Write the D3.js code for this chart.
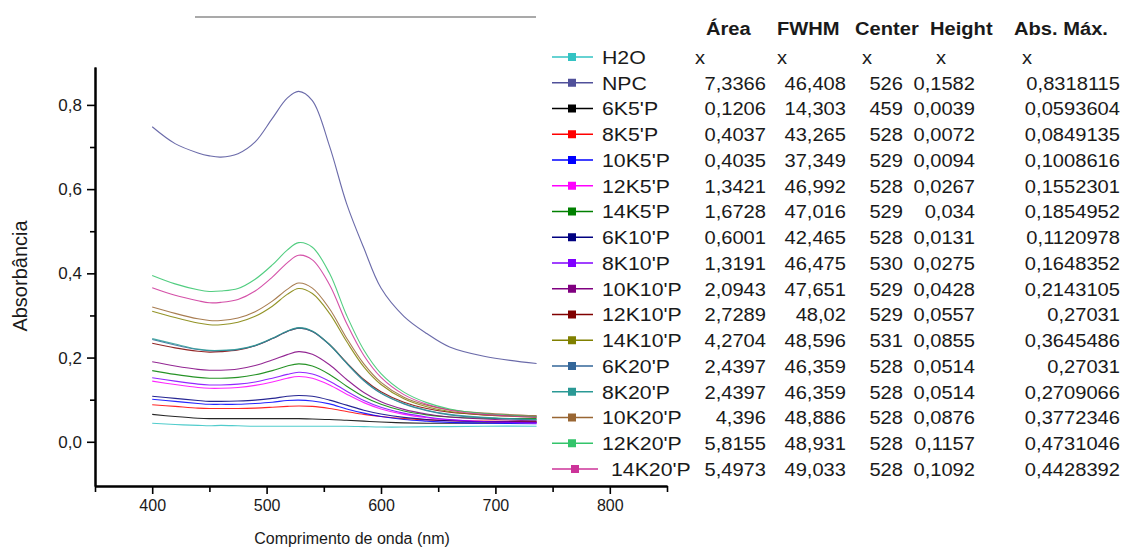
<!DOCTYPE html>
<html>
<head>
<meta charset="utf-8">
<script src="https://cdn.jsdelivr.net/npm/d3@7"></script>
<style>
  body { margin: 0; background: #fff; }
  text { font-family: "Liberation Sans", Arial, sans-serif; fill: #1a1a1a; }
</style>
</head>
<body>
<div id="chart"></div>
<script>
var wavelengths = [400, 420, 440, 450, 460, 475, 490, 505, 518, 528, 540, 555, 570, 585, 600, 620, 640, 660, 690, 736];

var seriesNames = ["H2O", "NPC", "6K5'P", "8K5'P", "10K5'P", "12K5'P", "14K5'P", "6K10'P", "8K10'P",
                   "10K10'P", "12K10'P", "14K10'P", "6K20'P", "8K20'P", "10K20'P", "12K20'P", "14K20'P"];

var seriesColors = ["#33c3c3", "#50509a", "#000000", "#ff0000", "#0000ff", "#ff00ff", "#008000", "#000080", "#8000ff",
                    "#800080", "#800000", "#808000", "#336699", "#2a9995", "#996633", "#33c46a", "#cc3399"];

// absorbance values, one array per sample
var h2o     = [0.044, 0.041, 0.039, 0.038, 0.039, 0.038, 0.037, 0.037, 0.037, 0.037, 0.037, 0.037, 0.037, 0.036, 0.035, 0.035, 0.036, 0.036, 0.037, 0.037];
var npc     = [0.748, 0.708, 0.686, 0.679, 0.676, 0.684, 0.712, 0.768, 0.816, 0.832, 0.810, 0.702, 0.565, 0.460, 0.365, 0.298, 0.257, 0.225, 0.203, 0.186];
var k6p5    = [0.065, 0.060, 0.056, 0.055, 0.055, 0.055, 0.055, 0.055, 0.055, 0.055, 0.054, 0.053, 0.051, 0.049, 0.047, 0.045, 0.044, 0.044, 0.045, 0.046];
var k8p5    = [0.088, 0.084, 0.080, 0.079, 0.079, 0.079, 0.080, 0.082, 0.084, 0.085, 0.084, 0.079, 0.072, 0.065, 0.060, 0.055, 0.052, 0.050, 0.049, 0.048];
var k10p5   = [0.101, 0.096, 0.091, 0.089, 0.089, 0.089, 0.091, 0.094, 0.098, 0.099, 0.097, 0.090, 0.078, 0.068, 0.060, 0.053, 0.049, 0.046, 0.044, 0.043];
var k12p5   = [0.144, 0.136, 0.129, 0.127, 0.127, 0.129, 0.134, 0.142, 0.151, 0.155, 0.151, 0.135, 0.113, 0.093, 0.078, 0.065, 0.057, 0.052, 0.048, 0.045];
var k14p5   = [0.169, 0.160, 0.153, 0.151, 0.151, 0.153, 0.159, 0.169, 0.180, 0.185, 0.180, 0.160, 0.132, 0.107, 0.089, 0.073, 0.064, 0.059, 0.056, 0.055];
var k6p10   = [0.108, 0.103, 0.098, 0.096, 0.096, 0.097, 0.099, 0.103, 0.108, 0.110, 0.108, 0.099, 0.087, 0.075, 0.066, 0.058, 0.053, 0.050, 0.048, 0.047];
var k8p10   = [0.152, 0.144, 0.137, 0.135, 0.135, 0.137, 0.142, 0.151, 0.160, 0.165, 0.161, 0.144, 0.120, 0.098, 0.082, 0.068, 0.059, 0.053, 0.048, 0.045];
var k10p10  = [0.190, 0.180, 0.172, 0.170, 0.170, 0.173, 0.181, 0.194, 0.207, 0.214, 0.208, 0.183, 0.148, 0.117, 0.095, 0.077, 0.066, 0.059, 0.054, 0.050];
var k12p10  = [0.234, 0.223, 0.215, 0.213, 0.214, 0.218, 0.228, 0.245, 0.262, 0.270, 0.262, 0.231, 0.188, 0.148, 0.119, 0.094, 0.079, 0.070, 0.064, 0.061];
var k14p10  = [0.310, 0.295, 0.282, 0.278, 0.278, 0.284, 0.298, 0.322, 0.350, 0.364, 0.352, 0.305, 0.238, 0.178, 0.136, 0.102, 0.083, 0.072, 0.064, 0.058];
var k6p20   = [0.243, 0.230, 0.219, 0.216, 0.216, 0.219, 0.228, 0.245, 0.262, 0.270, 0.262, 0.230, 0.186, 0.145, 0.115, 0.090, 0.074, 0.064, 0.057, 0.052];
var k8p20   = [0.245, 0.232, 0.220, 0.217, 0.217, 0.220, 0.229, 0.246, 0.263, 0.271, 0.263, 0.231, 0.187, 0.146, 0.116, 0.091, 0.075, 0.065, 0.058, 0.053];
var k10p20  = [0.320, 0.305, 0.292, 0.288, 0.288, 0.294, 0.309, 0.334, 0.362, 0.377, 0.365, 0.316, 0.246, 0.185, 0.141, 0.106, 0.087, 0.076, 0.068, 0.062];
var k12p20  = [0.395, 0.375, 0.361, 0.357, 0.358, 0.364, 0.386, 0.420, 0.455, 0.473, 0.462, 0.400, 0.300, 0.218, 0.162, 0.118, 0.093, 0.078, 0.067, 0.060];
var k14p20  = [0.366, 0.348, 0.335, 0.330, 0.331, 0.338, 0.358, 0.391, 0.425, 0.443, 0.432, 0.373, 0.281, 0.205, 0.153, 0.112, 0.089, 0.075, 0.065, 0.058];

var seriesValues = [h2o, npc, k6p5, k8p5, k10p5, k12p5, k14p5, k6p10, k8p10,
                    k10p10, k12p10, k14p10, k6p20, k8p20, k10p20, k12p20, k14p20];

// fit table next to the legend
var tableHeaders = ["Área", "FWHM", "Center", "Height", "Abs. Máx."];
var areaCol   = ["x", "7,3366", "0,1206", "0,4037", "0,4035", "1,3421", "1,6728", "0,6001", "1,3191", "2,0943", "2,7289", "4,2704", "2,4397", "2,4397", "4,396", "5,8155", "5,4973"];
var fwhmCol   = ["x", "46,408", "14,303", "43,265", "37,349", "46,992", "47,016", "42,465", "46,475", "47,651", "48,02", "48,596", "46,359", "46,359", "48,886", "48,931", "49,033"];
var centerCol = ["x", "526", "459", "528", "529", "528", "529", "528", "530", "529", "529", "531", "528", "528", "528", "528", "528"];
var heightCol = ["x", "0,1582", "0,0039", "0,0072", "0,0094", "0,0267", "0,034", "0,0131", "0,0275", "0,0428", "0,0557", "0,0855", "0,0514", "0,0514", "0,0876", "0,1157", "0,1092"];
var absMaxCol = ["x", "0,8318115", "0,0593604", "0,0849135", "0,1008616", "0,1552301", "0,1854952", "0,1120978", "0,1648352", "0,2143105", "0,27031", "0,3645486", "0,27031", "0,2709066", "0,3772346", "0,4731046", "0,4428392"];

var xMajorTicks = [400, 500, 600, 700, 800];
var xMinorTicks = [350, 450, 550, 650, 750, 850];
var yMajorTicks = [0, 0.2, 0.4, 0.6, 0.8];
var yMinorTicks = [0.1, 0.3, 0.5, 0.7];

function init() {
    var w = 1136;
    var h = 549;

    var svg = d3.select("#chart").append("svg")
                .attr("width", w)
                .attr("height", h);

    var xScale = d3.scaleLinear().domain([350, 850]).range([95, 667]);
    var yScale = d3.scaleLinear().domain([-0.105, 0.89]).range([486, 67]);

    var comma = function(d) { return d3.format(".1f")(d).replace(".", ","); };

    // stray rule at the top of the figure
    svg.append("line")
       .attr("x1", 195).attr("x2", 536)
       .attr("y1", 17).attr("y2", 17)
       .attr("stroke", "#555").attr("stroke-width", 1.2);

    // spectra
    var line = d3.line()
                 .x(function(d) { return xScale(d[0]); })
                 .y(function(d) { return yScale(d[1]); })
                 .curve(d3.curveCatmullRom.alpha(0.5));

    seriesValues.forEach(function(vals, i) {
        svg.append("path")
           .datum(wavelengths.map(function(wl, j) { return [wl, vals[j]]; }))
           .attr("fill", "none")
           .attr("stroke", seriesColors[i])
           .attr("stroke-width", 1.1)
           .attr("stroke-opacity", 0.85)
           .attr("d", line);
    });

    // axes
    svg.append("g")
       .attr("transform", "translate(0,486)")
       .call(d3.axisBottom(xScale).tickValues(xMajorTicks).tickSize(8).tickSizeOuter(0).tickPadding(6));
    svg.append("g")
       .attr("transform", "translate(0,486)")
       .call(d3.axisBottom(xScale).tickValues(xMinorTicks).tickSize(6).tickSizeOuter(0).tickFormat(""));

    var yAxis = svg.append("g")
                   .attr("transform", "translate(95,0)")
                   .call(d3.axisLeft(yScale).tickValues(yMajorTicks).tickSize(8).tickSizeOuter(0).tickPadding(5).tickFormat(comma));
    svg.append("g")
       .attr("transform", "translate(95,0)")
       .call(d3.axisLeft(yScale).tickValues(yMinorTicks).tickSize(5).tickSizeOuter(0).tickFormat(""));

    svg.selectAll(".domain").attr("stroke", "#000").attr("stroke-width", 2);
    svg.selectAll(".tick line").attr("stroke", "#000").attr("stroke-width", 1.6);
    svg.selectAll(".tick text")
       .style("font-family", "'Liberation Sans', Arial, sans-serif")
       .style("font-size", "16px")
       .attr("fill", "#222");
    yAxis.selectAll(".tick text").style("font-size", "17px");

    // axis titles
    svg.append("text")
       .attr("x", 352).attr("y", 544)
       .attr("text-anchor", "middle")
       .style("font-size", "16px")
       .text("Comprimento de onda (nm)");

    svg.append("text")
       .attr("transform", "translate(27,276) rotate(-90)")
       .attr("text-anchor", "middle")
       .style("font-size", "20px")
       .text("Absorbância");

    // legend with table; table text is a little wider than plain Arial
    var rowY = function(i) { return 57 + i * 25.75; };
    var legend = svg.append("g");

    function addText(x, y, t, size, sx, anchor, bold) {
        return legend.append("text")
                     .attr("transform", "translate(" + x + "," + y + ") scale(" + sx + ",1)")
                     .attr("dy", "0.36em")
                     .attr("text-anchor", anchor)
                     .style("font-size", size + "px")
                     .style("font-weight", bold ? "bold" : "normal")
                     .text(t);
    }

    seriesNames.forEach(function(name, i) {
        var y = rowY(i);
        var last = (i === seriesNames.length - 1);
        legend.append("line")
              .attr("x1", 552).attr("x2", last ? 598 : 593)
              .attr("y1", y).attr("y2", y)
              .attr("stroke", seriesColors[i]).attr("stroke-width", 1.3);
        legend.append("rect")
              .attr("x", (last ? 575 : 572) - 4).attr("y", y - 4)
              .attr("width", 8).attr("height", 8)
              .attr("fill", seriesColors[i]);
        addText(last ? 611 : 602, y, name, 19, 1.12, "start", false);
    });

    var headerX = [706, 777, 855, 930, 1014];
    tableHeaders.forEach(function(t, k) {
        addText(headerX[k], 28, t, 19, 1.06, "start", true);
    });

    var cols = [areaCol, fwhmCol, centerCol, heightCol, absMaxCol];
    var colRight = [766, 846, 903, 975, 1120];
    var colX = [695, 777, 862, 936, 1022];
    cols.forEach(function(col, k) {
        col.forEach(function(v, i) {
            if (v === "x") addText(colX[k], rowY(i), v, 19, 1.06, "start", false);
            else addText(colRight[k], rowY(i), v, 19, 1.06, "end", false);
        });
    });
}

window.onload = init;
</script>
</body>
</html>
